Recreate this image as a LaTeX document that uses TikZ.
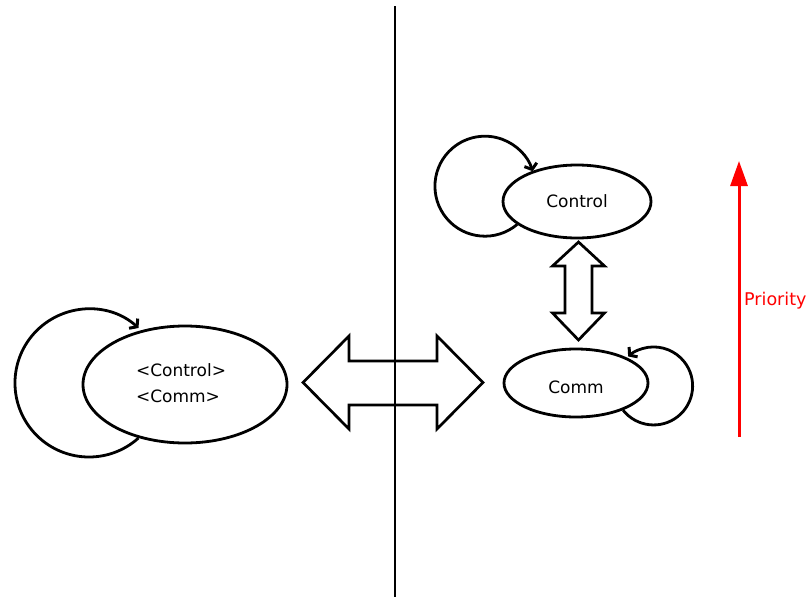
\documentclass[tikz,border=0pt]{standalone}
\usepackage{fontspec}
\setmainfont{DejaVu Sans}
\usetikzlibrary{arrows.meta,shapes.geometric}
\begin{document}
\begin{tikzpicture}[x=1pt,y=-1pt,
  state/.style={draw,ellipse,line width=2.8pt,inner sep=0pt,
    font=\fontsize{17}{25}\selectfont},
  selfloop/.style={line width=2.8pt,-{Straight Barb[length=5pt,width=13pt,line width=3pt]}},
  bigarrow/.style={draw,line width=2.7pt,line join=miter},
  prio/.style={draw=red,line width=3pt,-{Triangle[length=25pt,width=17pt]}}]
\useasboundingbox (0,0) rectangle (808,597);

% merged state on the left
\node[state,minimum width=204pt,minimum height=117pt,align=left] (merged) at (185,384.5)
  {\raisebox{3pt}{\begin{tabular}{@{}l@{}}<Control>\\[1pt]<Comm>\end{tabular}}\kern8pt};
\draw[selfloop] (merged.229) arc[start angle=48,end angle=312,radius=74];

% separate states on the right
\node[state,minimum width=148pt,minimum height=73pt] (ctrl) at (577,201.5) {Control};
\draw[selfloop] (ctrl.201) arc[start angle=50,end angle=342.6,radius=50];

\node[state,minimum width=144pt,minimum height=68pt] (comm) at (576,383)
  {\raisebox{-10pt}[0pt][0pt]{Comm}};
\draw[selfloop] (comm.-30) arc[start angle=141.6,end angle=-130.8,radius=39];

% hollow double arrow between the two states
\draw[bigarrow] (578.5,242) -- (604.5,266) -- (592,266) -- (592,313) -- (604.5,313)
  -- (578.5,340) -- (552.5,313) -- (565,313) -- (565,266) -- (552.5,266) -- cycle;

% hollow double arrow between the two halves
\draw[bigarrow] (303,382.5) -- (349,336) -- (349,361) -- (437,361) -- (437,336)
  -- (483,382.5) -- (437,429) -- (437,405) -- (349,405) -- (349,429) -- cycle;

% dividing line
\coordinate (divtop) at (395,6);
\coordinate (divbot) at (395,597);
\draw[line width=2.8pt] (divtop) -- (divbot);

% priority axis
\coordinate (plow) at (739,437);
\coordinate (phigh) at (739,161);
\draw[prio] (plow) -- (phigh);
\node[anchor=west,text=red,inner sep=0pt,font=\fontsize{17.5}{20}\selectfont] (plabel) at (744,301) {Priority};
\end{tikzpicture}
\end{document}
